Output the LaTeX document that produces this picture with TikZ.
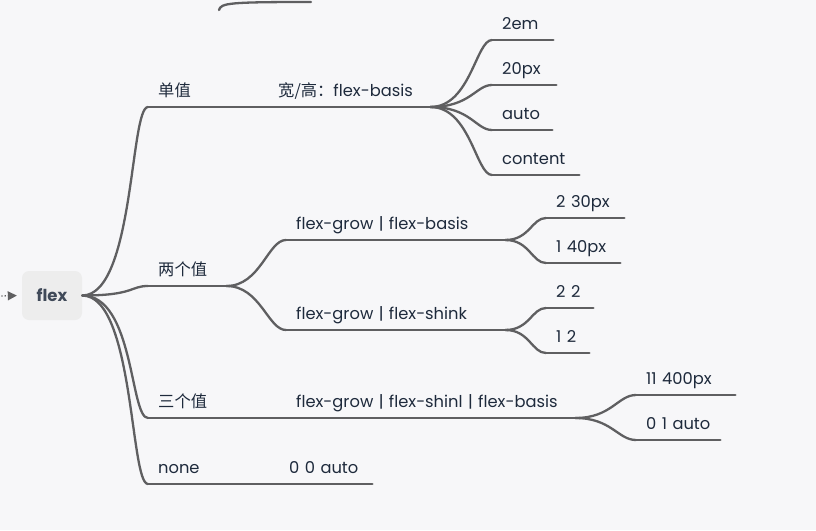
\documentclass[tikz,border=0pt]{standalone}
\usepackage{fontspec}
\setmainfont{Poppins}
\newfontfamily\cjk{Noto Sans CJK SC}
\usetikzlibrary{arrows.meta}

\definecolor{bgcol}{HTML}{F7F7F9}
\definecolor{linecol}{HTML}{5F5F61}
\definecolor{txtcol}{HTML}{1E2A3C}
\definecolor{rootfill}{HTML}{EDEDED}

\tikzset{
	branch/.style={draw=linecol, line width=2.3pt, line cap=round},
	topic/.style={anchor=south west, inner xsep=10pt, inner ysep=6pt, text width=#1,
				  text height=12pt, text depth=4pt, align=left, text=txtcol,
				  font=\fontsize{16.3}{18}\selectfont,
				  append after command={(\tikzlastnode.south west) edge[branch] (\tikzlastnode.south east)}},
	rootbox/.style={fill=rootfill, rounded corners=7pt, minimum width=60pt, minimum height=49pt,
					text=txtcol!85!white, font=\fontsize{16.5}{18}\selectfont\bfseries},
}

\begin{document}
\begin{tikzpicture}[x=1pt, y=-1pt]
	\useasboundingbox (0,0) rectangle (816,530);
	\fill[bgcol] (0,0) rectangle (816,530);
	
	% flex
	\node (root) [rootbox] at (52,295.5) {flex};
	\coordinate (in) at (-2,296);
	\draw[linecol, dotted, line width=1.3pt, shorten >=5pt, -{Triangle[length=9pt,width=9pt]}] (in) -- (root.west);
	
	% cut-off branch at the top
	\coordinate (topA) at (219,10);
	\coordinate (topB) at (311,2);
	\draw[branch] (topA) .. controls +(2,-7) and +(-82,0) .. (topB);
	
	% 单值
	\node (single) [topic=100pt] at (148,107) {\cjk 单值};
	\node (wh) [topic=142pt] at (268,107) {{\cjk 宽/高：}flex-basis};
	\node (em)  [topic=41pt] at (492,40)  {2em};
	\node (px)  [topic=44pt] at (492,85)  {20px};
	\node (au)  [topic=40pt] at (492,130) {auto};
	\node (ct)  [topic=67pt] at (492,175) {content};
	
	% 两个值
	\node (two) [topic=58pt] at (148,286) {\cjk 两个值};
	\node (gb) [topic=199pt] at (286,240) {flex-grow | flex-basis};
	\node (gs) [topic=199pt] at (286,330) {flex-grow | flex-shink};
	\node (tA) [topic=58pt] at (546,218) {\mbox{2 30px}};
	\node (tB) [topic=54pt] at (546,263) {\mbox{1 40px}};
	\node (tC) [topic=27pt] at (546,308) {\mbox{2 2}};
	\node (tD) [topic=23pt] at (546,353) {\mbox{1 2}};
	
	% 三个值
	\node (three) [topic=118pt] at (148,418) {\cjk 三个值};
	\node (gsb) [topic=269pt] at (286,418) {flex-grow | flex-shinl | flex-basis};
	\node (hA) [topic=79pt] at (636,395) {\mbox{11 400px}};
	\node (hB) [topic=64pt] at (636,440) {\mbox{0 1 auto}};
	
	% none
	\node (none) [topic=111pt] at (148,484) {none};
	\node (auto) [topic=73pt] at (279,484) {\mbox{0 0 auto}};
	
	% connectors
	\foreach \t in {single,two,three,none}
		\draw[branch] (root.east) .. controls +(52,0) and +(-18,0) .. (\t.south west);
	\foreach \t in {em,px,au,ct}
		\draw[branch] (wh.south east) .. controls +(40,0) and +(-16,0) .. (\t.south west);
	\foreach \t in {gb,gs}
		\draw[branch] (two.south east) .. controls +(34,0) and +(-18,0) .. (\t.south west);
	\foreach \t in {tA,tB}
		\draw[branch] (gb.south east) .. controls +(24,0) and +(-14,0) .. (\t.south west);
	\foreach \t in {tC,tD}
		\draw[branch] (gs.south east) .. controls +(24,0) and +(-14,0) .. (\t.south west);
	\foreach \t in {hA,hB}
		\draw[branch] (gsb.south east) .. controls +(36,0) and +(-18,0) .. (\t.south west);
\end{tikzpicture}
\end{document}
